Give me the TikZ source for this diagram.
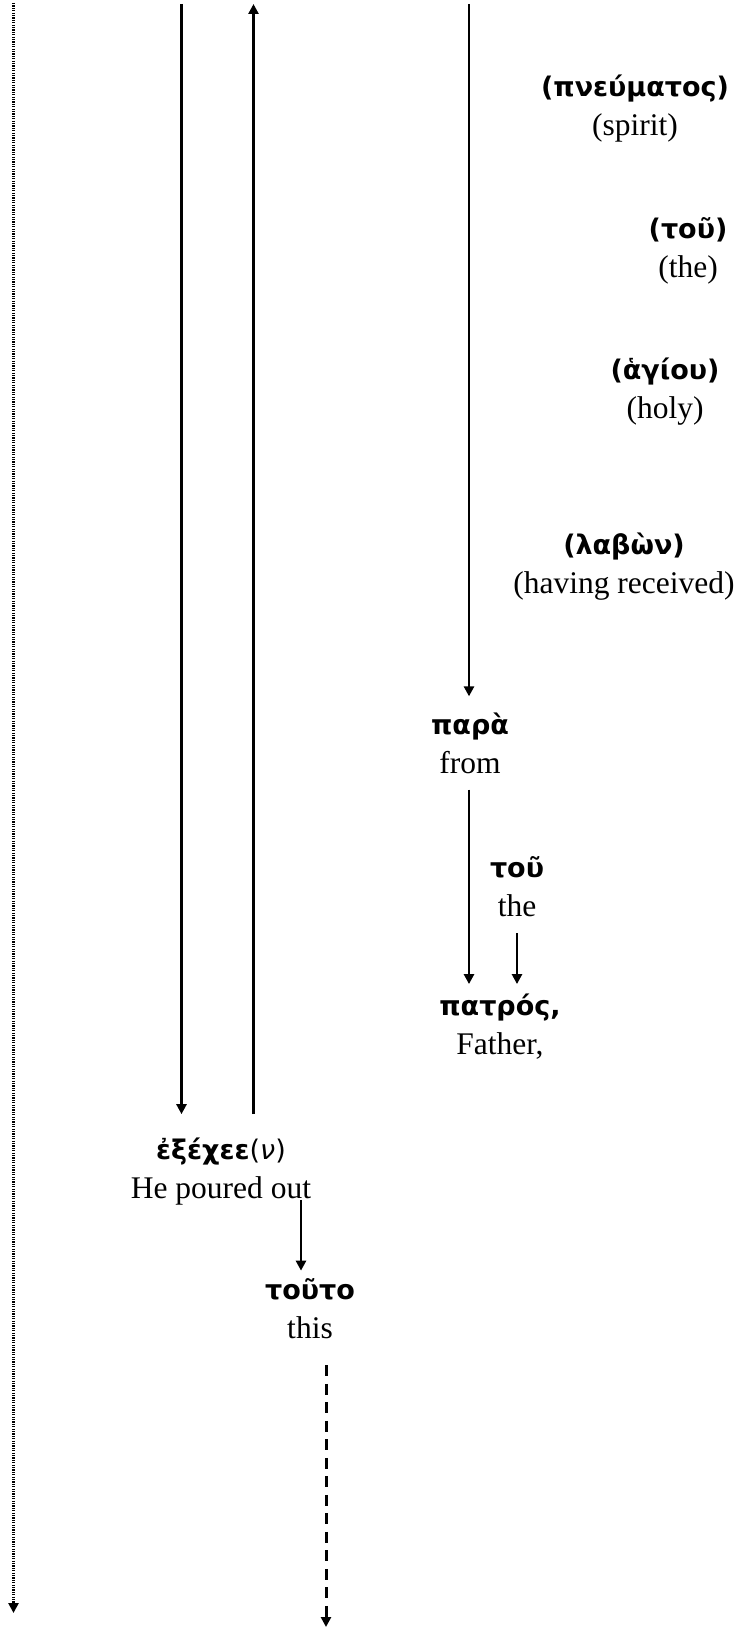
\documentclass[tikz,border=0pt]{standalone}
\usepackage{fontspec}
\setmainfont{Liberation Serif}
\newfontfamily\gkfont{DejaVu Sans}
\usetikzlibrary{arrows.meta,calc}

% Greek headword in bold sans, gloss below in serif
\newcommand{\gw}[1]{{\gkfont\bfseries\fontsize{27}{39}\selectfont #1}}

\tikzset{
  word/.style={align=center, inner xsep=0pt, inner ysep=16pt,
               font=\fontsize{31.5}{39}\selectfont},
  arr/.style={line width=2.5pt, -{Triangle[length=10pt,width=10pt]}},
  dotline/.style={arr, dash pattern=on 1.2pt off 1.2pt},
  dashline/.style={arr, line width=3pt, dash pattern=on 11pt off 7.5pt}
}

\begin{document}
\begin{tikzpicture}[x=1pt,y=-1pt]
  \useasboundingbox (0,0) rectangle (744,1627);

  % words
  \node[word] (pneumatos) at (635,109) {\gw{(πνεύματος)}\\(spirit)};
  \node[word] (tou1)      at (688,251) {\gw{(τοῦ)}\\(the)};
  \node[word] (hagiou)    at (665,392) {\gw{(ἁγίου)}\\(holy)};
  \node[word] (labon)     at (624,567) {\gw{(λαβὼν)}\\(having received)};
  \node[word] (para)      at (470,743) {\gw{παρὰ}\\from};
  \node[word] (tou2)      at (517,887) {\gw{τοῦ}\\the};
  \node[word, inner ysep=10pt] (patros) at (500,1027) {\gw{πατρός,}\\Father,};
  \node[word, inner ysep=24pt] (exechee) at (221,1172)
        {\gw{ἐξέχεε{\mdseries(\itshape ν\upshape)}}\\He poured out};
  \node[word, inner ysep=22pt] (touto) at (310,1309) {\gw{τοῦτο}\\this};

  % free ends of the long lines
  \coordinate (d0) at (13.5,3);
  \coordinate (d1) at (13.5,1613);
  \coordinate (c2) at (181.5,4);
  \coordinate (c3) at (253.5,4);
  \coordinate (c4) at (469,4);
  \coordinate (k)  at (301,0);
  \coordinate (dd) at (326,1627);

  % connectors
  \draw[dotline] (d0) -- (d1);
  \draw[arr] (c2) -- (exechee.north -| c2);
  \draw[arr] (exechee.north -| c3) -- (c3);
  \draw[arr] (c4) -- (para.north -| c4);
  \draw[arr] (para.south -| c4) -- (patros.north -| c4);
  \draw[arr] (tou2.south) -- (patros.north -| tou2.south);
  \draw[arr] ($(exechee.south -| k)+(0,-30)$) -- ($(touto.north -| k)+(0,14)$);
  \draw[dashline] ($(touto.south -| dd)+(0,4)$) -- (dd);
\end{tikzpicture}
\end{document}
